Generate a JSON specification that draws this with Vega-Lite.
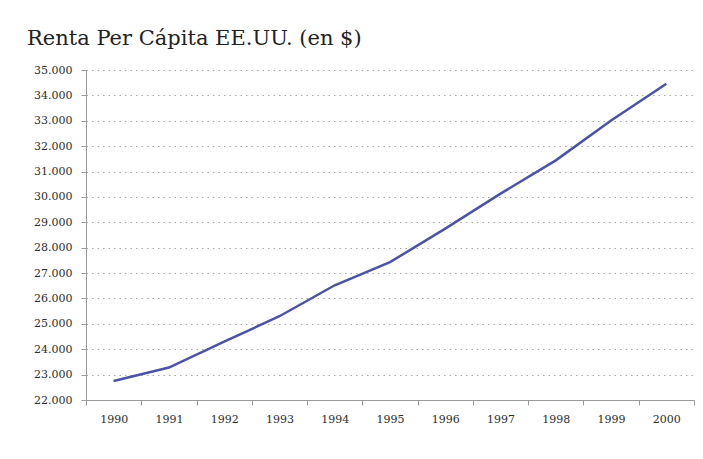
{
  "$schema": "https://vega.github.io/schema/vega-lite/v6.json",
  "autosize": {"type": "none"},
  "width": 608,
  "height": 330,
  "padding": {"left": 86, "top": 70, "right": 9, "bottom": 59},
  "background": "#ffffff",
  "title": {
    "text": "Renta Per Cápita EE.UU. (en $)",
    "anchor": "start",
    "frame": "group",
    "dx": -59,
    "baseline": "alphabetic",
    "offset": -2,
    "font": "DejaVu Serif",
    "fontSize": 21,
    "fontWeight": "normal",
    "color": "#222222"
  },
  "data": {
    "values": [
      {"year": "1990", "renta": 22750},
      {"year": "1991", "renta": 23280},
      {"year": "1992", "renta": 24300},
      {"year": "1993", "renta": 25300},
      {"year": "1994", "renta": 26520},
      {"year": "1995", "renta": 27430},
      {"year": "1996", "renta": 28750},
      {"year": "1997", "renta": 30130},
      {"year": "1998", "renta": 31440},
      {"year": "1999", "renta": 33010},
      {"year": "2000", "renta": 34460}
    ]
  },
  "mark": {"type": "line", "color": "#4a53a8", "strokeWidth": 2.5},
  "encoding": {
    "x": {
      "field": "year",
      "type": "ordinal",
      "scale": {"type": "band", "paddingInner": 0, "paddingOuter": 0},
      "axis": {
        "title": null,
        "labelAngle": 0,
        "tickBand": "extent",
        "grid": false,
        "domainColor": "#9a9a9a",
        "tickColor": "#9a9a9a",
        "tickSize": 5,
        "labelPadding": 8,
        "labelFont": "DejaVu Serif",
        "labelFontSize": 11,
        "labelColor": "#2e2e2e"
      }
    },
    "y": {
      "field": "renta",
      "type": "quantitative",
      "scale": {"domain": [22000, 35000], "nice": false, "zero": false},
      "axis": {
        "title": null,
        "values": [22000, 23000, 24000, 25000, 26000, 27000, 28000, 29000, 30000, 31000, 32000, 33000, 34000, 35000],
        "labelExpr": "replace(format(datum.value, ',.0f'), ',', '.')",
        "grid": true,
        "gridColor": "#a8a8a8",
        "gridDash": [1.5, 4],
        "gridWidth": 1.2,
        "domainColor": "#9a9a9a",
        "tickColor": "#9a9a9a",
        "tickSize": 5,
        "labelPadding": 9,
        "labelFont": "DejaVu Serif",
        "labelFontSize": 11,
        "labelColor": "#2e2e2e"
      }
    }
  },
  "config": {
    "view": {"stroke": null}
  }
}
